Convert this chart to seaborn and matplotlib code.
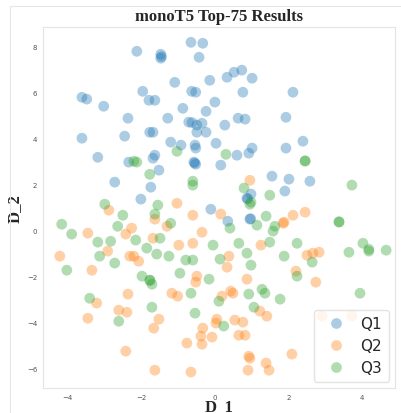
import numpy as np
import pandas as pd
import matplotlib
matplotlib.use("Agg")
import matplotlib.pyplot as plt
from matplotlib.lines import Line2D
import seaborn as sns

# Q1 points
q1_x = [-0.65, -0.33, -2.12, -1.47, -1.47, -0.43, -1.09, -0.14, -3.61, -3.48,
        -1.96, -3.02, -1.79, -1.63, -0.63, -0.52, -0.87, -0.24, 0.00, -2.36,
        -1.28, -0.71, -0.49, -0.35, -0.49, -0.24, -3.61, -2.45, -1.77, -1.68,
        -1.20, -0.92, -0.54, -0.52, 0.03, -3.18, -1.63, 0.52, 0.73, 0.33,
        1.01, 0.76, 2.12, 0.63, 0.82, 1.93, 0.27, 1.93, 2.39, 1.01,
        0.92, 0.60, -2.34, -1.68, -1.52, -0.57, -0.52, -2.72, -1.74, -2.01,
        -0.11, 0.16, 1.55, 2.01, 2.58, 0.98, 1.90, 0.87, 0.35, 0.95,
        0.89, 0.97, -0.62, -0.55, -1.45]
q1_y = [8.17, 8.13, 7.78, 7.65, 7.48, 7.52, 6.43, 6.52, 5.78, 5.70,
        6.04, 5.39, 5.65, 5.65, 6.04, 6.00, 5.30, 5.17, 5.57, 4.87,
        4.87, 4.70, 4.57, 4.65, 4.26, 4.26, 4.00, 4.09, 4.26, 4.26,
        3.83, 3.70, 3.70, 3.57, 3.78, 3.17, 3.26, 6.87, 6.96, 6.65,
        6.61, 6.00, 6.00, 4.87, 4.83, 4.91, 4.57, 3.57, 3.87, 3.57,
        3.35, 3.26, 2.96, 3.13, 2.61, 2.96, 2.87, 2.09, 1.87, 1.35,
        0.91, 2.83, 2.35, 2.22, 2.13, 1.57, 1.70, 1.39, 0.39, 0.48,
        1.36, 0.50, 4.68, 2.92, 7.55]

# Q2 points
q2_x = [-1.03, -2.88, -1.63, -0.60, -3.45, -2.26, -2.42, -1.30, -0.35, -1.68,
        -0.60, -0.98, -2.91, -4.21, -2.31, -2.20, -2.07, -3.34, -0.49, -0.52,
        -2.36, -1.17, -1.01, -3.21, -2.61, -2.39, -3.45, -1.52, -1.66, 0.05,
        0.03, -0.33, -0.38, -0.08, -0.76, -0.35, -2.42, -1.63, -0.65, 0.95,
        0.16, 1.85, 1.88, 2.12, 2.45, 1.25, 0.38, 2.50, 2.66, 2.83,
        0.33, 0.87, 2.20, 2.74, 0.43, 0.49, 0.19, 1.22, 1.41, 0.54,
        0.76, 0.65, 0.82, 0.92, 0.95, 2.09, 1.39, 1.47, 0.90, 2.91,
        3.72]
q2_y = [1.17, 0.87, 0.48, 0.65, -0.13, 0.09, -0.17, 0.17, -0.09, -0.35,
        -0.57, -0.65, -0.91, -1.13, -1.13, -1.13, -1.35, -1.74, -2.00, -2.26,
        -2.78, -2.74, -2.87, -3.17, -3.48, -3.57, -3.83, -3.87, -4.26, -3.87,
        -4.04, -4.26, -4.61, -4.65, -4.91, -4.96, -5.26, -6.09, -6.17, 2.17,
        0.70, 0.30, 0.35, 0.65, 0.78, -0.65, -1.13, -1.09, -1.00, -0.96,
        -1.61, -2.13, -1.78, -2.26, -2.65, -2.74, -2.87, -3.52, -3.74, -3.91,
        -4.00, -4.57, -4.57, -5.48, -5.57, -5.39, -5.78, -6.09, -6.09, -3.74,
        -3.74]

# Q3 points
q3_x = [-1.03, -2.20, -2.12, -1.77, -0.60, -0.60, -1.55, -2.99, -1.63, -2.50,
        -4.16, -3.89, -2.64, -1.20, -1.49, -3.18, -2.83, -2.15, -0.05, -1.85,
        -1.58, -3.13, -1.25, -0.79, -0.60, -2.72, -4.02, -1.98, -1.77, -1.71,
        -0.95, -0.16, -0.65, -3.40, 0.11, -1.71, -0.54, -2.61, 0.30, 2.45,
        0.79, 1.49, 0.98, 0.95, 3.72, 0.41, 1.14, 1.39, 1.63, 1.58,
        3.37, 1.49, 0.65, 2.23, 0.87, 1.88, 3.64, 4.02, 4.18, 4.18,
        4.65, 0.14, 0.98, 2.64, 2.23, 3.94, 0.92, 1.28, 1.36, 1.77,
        1.06, 0.24, 3.37, -1.76, 2.45]
q3_y = [3.43, 3.00, 2.96, 2.43, 2.13, 1.96, 1.09, 1.13, 0.70, 0.65,
        0.26, -0.17, 0.17, 0.30, -0.35, -0.52, -0.48, -0.43, -0.65, -0.78,
        -1.04, -1.13, -1.13, -1.30, -1.30, -1.43, -1.74, -2.00, -2.17, -2.35,
        -1.87, -2.13, -2.74, -2.96, -3.09, -3.35, -3.61, -3.96, 3.30, 3.00,
        1.83, 1.52, 1.22, 1.13, 1.96, 0.09, 0.22, 0.61, 0.17, -0.04,
        0.35, -0.52, -0.57, -0.57, -1.00, -1.13, -0.96, -0.57, -0.83, -0.91,
        -0.87, -1.26, -1.52, -1.39, -2.00, -2.74, -2.78, -2.57, -2.74, -3.00,
        -3.35, -4.17, 0.37, -2.19, 3.02]

labels = ["Q1", "Q2", "Q3"]

df = pd.DataFrame({
    "D_1": q1_x + q2_x + q3_x,
    "D_2": q1_y + q2_y + q3_y,
    "label": ["Q1"] * len(q1_x) + ["Q2"] * len(q2_x) + ["Q3"] * len(q3_x),
})

sns.set_style("whitegrid")
fig = plt.figure(figsize=(4.01, 4.14), dpi=100)
ax = fig.add_axes([0.107, 0.06, 0.878, 0.872])

sns.scatterplot(data=df, x="D_1", y="D_2", hue="label", hue_order=labels,
                palette=["#1f77b4", "#ff7f0e", "#2ca02c"], alpha=0.37,
                s=60, linewidth=0, ax=ax)

ax.grid(False)
for sp in ax.spines.values():
    sp.set_color("#e4e4e4")
    sp.set_linewidth(0.8)

ax.set_xlim(-4.67, 4.89)
ax.set_ylim(-6.87, 8.83)
ax.set_xticks([-4, -2, 0, 2, 4])
ax.set_yticks([-6, -4, -2, 0, 2, 4, 6, 8])
ax.tick_params(labelsize=5, colors="#555555", length=0, pad=4)

ax.set_title("monoT5 Top-75 Results", fontsize=12, fontweight="bold",
             family="Liberation Serif", pad=5)
ax.set_xlabel("D_1", fontsize=12, fontweight="bold", family="Liberation Serif",
              labelpad=-1)
ax.set_ylabel("D_2", fontsize=12, fontweight="bold", family="Liberation Serif",
              labelpad=3)

leg = ax.legend(loc="lower right", fontsize=11, markerscale=1.0,
                framealpha=0.8, borderpad=0.45, handletextpad=0.6,
                labelspacing=0.45, borderaxespad=0.4)
leg.get_frame().set_edgecolor("#dddddd")

# thin outer border like the screenshot
fig.add_artist(Line2D([10 / 401, 10 / 401], [0, 1 - 7 / 414], color="#e6e6e6", lw=0.8))
fig.add_artist(Line2D([10 / 401, 1], [1 - 7 / 414, 1 - 7 / 414], color="#e6e6e6", lw=0.8))

fig.savefig("out.png", dpi=100)
